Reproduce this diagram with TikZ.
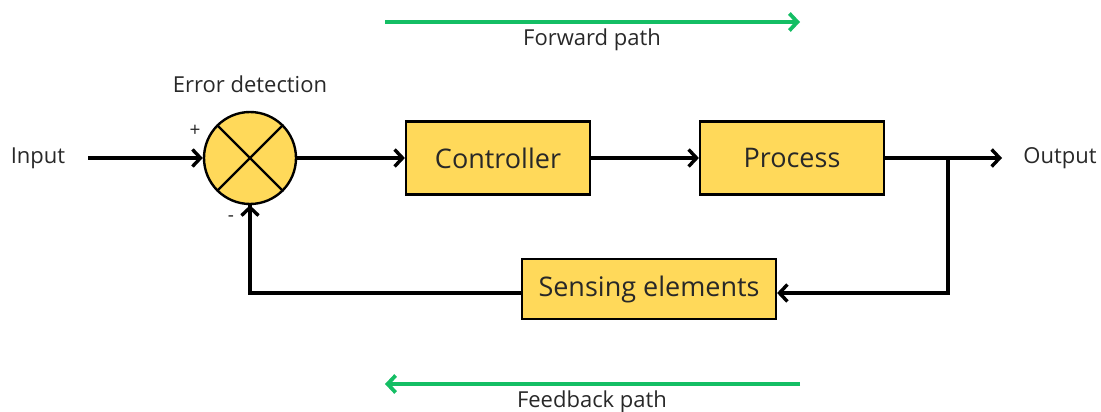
\documentclass[tikz,border=0pt]{standalone}
\usepackage{fontspec}
\setmainfont{Open Sans}
\usetikzlibrary{arrows.meta}
\definecolor{boxyellow}{RGB}{255,217,90}
\definecolor{pathgreen}{RGB}{20,190,100}
\definecolor{txt}{RGB}{40,40,40}
\tikzset{
  blk/.style={draw=black, line width=2.2pt, fill=boxyellow, minimum width=184pt, minimum height=73pt, inner sep=0pt, font=\fontsize{27}{30}\selectfont, text=txt},
  conn/.style={line width=3.8pt, -{Straight Barb[length=8pt,width=17pt,line width=3.4pt]}},
  line/.style={line width=3.8pt},
  gconn/.style={line width=3.8pt, draw=pathgreen, -{Straight Barb[length=8pt,width=17pt,line width=3.8pt]}},
  lbl/.style={font=\fontsize{22}{26}\selectfont, text=txt, inner sep=0pt},
}
\begin{document}
\begin{tikzpicture}[x=1pt,y=-1pt]
\useasboundingbox (0,0) rectangle (1101,412);
\node[lbl] (in) at (38,158) {Input};
\node[lbl] (out) at (1060,158) {Output};
\node[lbl] (err) at (250,84) {Error detection};
\node[draw=black, line width=2.4pt, fill=boxyellow, circle, minimum size=92pt, inner sep=0pt] (sum) at (250,158) {};
\draw[line width=2.2pt] (sum.45) -- (sum.225) (sum.135) -- (sum.315);
\node[blk] (ctrl) at (498,158) {Controller};
\node[blk] (proc) at (792,158) {Process};
\node[blk, minimum width=254pt, minimum height=60pt] (sens) at (649,289) {Sensing elements};
\node[lbl, font=\fontsize{19}{22}\selectfont] (plus) at (195,131) {+};
\node[lbl, font=\fontsize{19}{22}\selectfont] (minus) at (231,219) {-};
\coordinate (instart) at (88,158);
\coordinate (outend) at (1002,158);
\coordinate (branch) at (948,158);
\coordinate (br2) at (948,293);
\coordinate (fb1) at (250,293);
\draw[conn] (instart) -- (sum.west);
\draw[conn] (sum.east) -- (ctrl.west);
\draw[conn] (ctrl.east) -- (proc.west);
\draw[conn] (proc.east) -- (outend);
\draw[line, line cap=rect] (branch) -- (br2);
\draw[conn] (br2) -- (sens.east |- br2);
\draw[line, line cap=rect] (sens.west |- fb1) -- (fb1) -- (fb1 |- sum.south);
\draw[conn] (fb1 |- sum.south) ++(0,30) -- (sum.south);
\coordinate (f1) at (385,22);
\coordinate (f2) at (800,22);
\coordinate (b1) at (800,384);
\coordinate (b2) at (385,384);
\draw[gconn] (f1) -- (f2);
\draw[gconn] (b1) -- (b2);
\node[lbl] (fwd) at (592,40) {Forward path};
\node[lbl] (fbk) at (592,402) {Feedback path};
\end{tikzpicture}
\end{document}
